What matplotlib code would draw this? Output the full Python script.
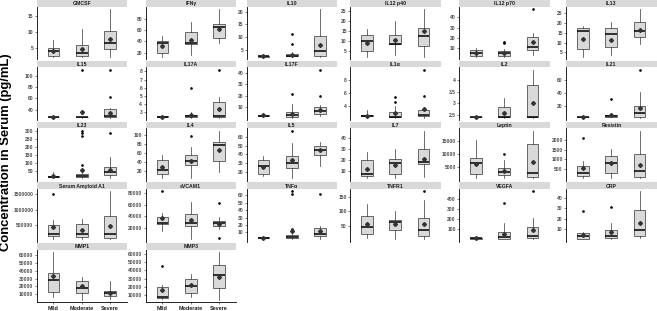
import matplotlib
matplotlib.use("Agg")
import matplotlib.pyplot as plt

plt.rcParams['font.family'] = ['Liberation Sans', 'DejaVu Sans']

groups = ["Mild", "Moderate", "Severe"]

panels = ["GMCSF", "IFNγ", "IL10", "IL12 p40", "IL12 p70", "IL13",
          "IL15", "IL17A", "IL17F", "IL1α", "IL2", "IL21",
          "IL23", "IL4", "IL5", "IL7", "Leptin", "Resistin",
          "Serum Amyloid A1", "sVCAM1", "TNFα", "TNFR1", "VEGFA", "CRP",
          "MMP1", "MMP3"]

whislo = {
    "GMCSF": [2.4, 2.4, 2.4], "IFNγ": [13, 17, 38], "IL10": [2.2, 2.2, 2.2],
    "IL12 p40": [2.2, 3.0, 2.2], "IL12 p70": [2, 2, 3.5], "IL13": [2.8, 3.6, 9.5],
    "IL15": [26.5, 26.5, 26.5], "IL17A": [2.3, 2.3, 2.3], "IL17F": [1.0, 0.5, 1.5],
    "IL1α": [2.3, 2.2, 2.2], "IL2": [2.38, 2.38, 2.38], "IL21": [1.5, 2, 1.5],
    "IL23": [3, 2, 5], "IL4": [5, 3, 18], "IL5": [15, 12, 27], "IL7": [3, 3, 4],
    "Leptin": [500, 500, 500], "Resistin": [80, 80, 50],
    "Serum Amyloid A1": [40000, 30000, 40000], "sVCAM1": [15000, 0, 17000],
    "TNFα": [1, 1, 1], "TNFR1": [5, 3, 2], "VEGFA": [3, 2, 5], "CRP": [0.3, 0.5, 1],
    "MMP1": [5800, 2500, 4000], "MMP3": [5000, 8000, 4000],
}
q1 = {
    "GMCSF": [2.6, 2.6, 4.7], "IFNγ": [19, 35, 46], "IL10": [2.3, 2.4, 2.4],
    "IL12 p40": [5.3, 8.5, 7.8], "IL12 p70": [2.6, 2.6, 8.3], "IL13": [6.7, 8, 12.8],
    "IL15": [26.8, 26.8, 27], "IL17A": [2.35, 2.4, 2.4], "IL17F": [1.5, 0.8, 3.7],
    "IL1α": [2.4, 2.25, 2.4], "IL2": [2.39, 2.4, 2.4], "IL21": [2, 3, 2.5],
    "IL23": [10, 10, 22], "IL4": [13, 32, 42], "IL5": [17, 24, 39], "IL7": [5, 7, 16],
    "Leptin": [2300, 1700, 1200], "Resistin": [170, 340, 100],
    "Serum Amyloid A1": [130000, 100000, 60000], "sVCAM1": [27000, 23000, 23000],
    "TNFα": [2, 2, 5], "TNFR1": [22, 33, 15], "VEGFA": [6, 5, 15], "CRP": [0.5, 1.5, 3],
    "MMP1": [12200, 11000, 8000], "MMP3": [6000, 12000, 18000],
}
median = {
    "GMCSF": [4.1, 3.7, 6.7], "IFNγ": [37, 38, 65], "IL10": [2.4, 2.6, 4.4],
    "IL12 p40": [10, 8.8, 12.5], "IL12 p70": [5.8, 5.5, 11], "IL13": [15.8, 14.2, 15.8],
    "IL15": [27, 27, 28.5], "IL17A": [2.4, 2.45, 2.45], "IL17F": [2.2, 2.8, 6.5],
    "IL1α": [2.45, 2.3, 2.6], "IL2": [2.4, 2.4, 2.4], "IL21": [2.3, 4, 9],
    "IL23": [14, 18, 45], "IL4": [21, 41, 78], "IL5": [27, 30, 45.5], "IL7": [7, 17, 18],
    "Leptin": [6300, 3000, 2600], "Resistin": [340, 830, 420],
    "Serum Amyloid A1": [210000, 210000, 200000], "sVCAM1": [28500, 29000, 28000],
    "TNFα": [3, 3.5, 8], "TNFR1": [44, 62, 33], "VEGFA": [10, 20, 30], "CRP": [3, 3, 9],
    "MMP1": [28000, 18500, 11000], "MMP3": [8200, 21500, 34500],
}
q3 = {
    "GMCSF": [5.3, 6.2, 10.3], "IFNγ": [41, 57, 70], "IL10": [2.6, 3.3, 10.3],
    "IL12 p40": [13.2, 13.2, 16.5], "IL12 p70": [8.3, 7.3, 21], "IL13": [17.3, 17.3, 20.3],
    "IL15": [27.2, 27.5, 42], "IL17A": [2.45, 2.6, 4.2], "IL17F": [2.8, 5.7, 9.5],
    "IL1α": [2.55, 3.0, 3.35], "IL2": [2.41, 2.85, 3.8], "IL21": [2.8, 5, 20],
    "IL23": [20, 30, 72], "IL4": [45, 55, 84], "IL5": [33.5, 38, 50.5], "IL7": [20, 20.5, 30],
    "Leptin": [8500, 4500, 13800], "Resistin": [680, 1150, 1300],
    "Serum Amyloid A1": [500000, 540000, 790000], "sVCAM1": [39000, 43000, 32000],
    "TNFα": [4, 6, 16], "TNFR1": [83, 71, 78], "VEGFA": [14, 75, 125], "CRP": [5.8, 9.5, 28],
    "MMP1": [37000, 27500, 14500], "MMP3": [20000, 30000, 46000],
}
whishi = {
    "GMCSF": [7.6, 11.2, 17.3], "IFNγ": [50, 75, 97], "IL10": [2.7, 4.2, 21],
    "IL12 p40": [16.2, 20, 26], "IL12 p70": [10.5, 9.5, 25], "IL13": [18.6, 20.3, 27],
    "IL15": [27.5, 28, 44], "IL17A": [2.5, 3.0, 4.9], "IL17F": [4.2, 12.3, 11.5],
    "IL1α": [3.35, 4.0, 3.8], "IL2": [2.42, 3.25, 4.45], "IL21": [3.5, 6.5, 42],
    "IL23": [40, 55, 135], "IL4": [56, 73, 110], "IL5": [38, 53, 55], "IL7": [27, 30, 47],
    "Leptin": [15500, 7500, 19000], "Resistin": [900, 1530, 2450],
    "Serum Amyloid A1": [650000, 700000, 1600000], "sVCAM1": [46000, 64000, 38000],
    "TNFα": [5, 10, 19], "TNFR1": [124, 101, 140], "VEGFA": [18, 165, 205], "CRP": [7, 15.5, 46],
    "MMP1": [64000, 32000, 27000], "MMP3": [22000, 35000, 62000],
}
means = {
    "GMCSF": [4.2, 4.8, 8.0], "IFNγ": [32, 43, 62], "IL10": [2.4, 3.0, 7.0],
    "IL12 p40": [8.9, 10.5, 14.8], "IL12 p70": [5.5, 5.8, 16], "IL13": [12, 11.5, 16.5],
    "IL15": [27, 36, 35], "IL17A": [2.4, 2.6, 3.4], "IL17F": [2.5, 3.5, 7],
    "IL1α": [2.5, 2.9, 3.5], "IL2": [2.4, 2.6, 3.0], "IL21": [2.4, 5, 16],
    "IL23": [15, 55, 55], "IL4": [28, 43, 66], "IL5": [25, 33, 45], "IL7": [12, 15, 21],
    "Leptin": [6000, 3200, 6700], "Resistin": [560, 800, 730],
    "Serum Amyloid A1": [420000, 330000, 450000], "sVCAM1": [36000, 33000, 27000],
    "TNFα": [3, 12, 12], "TNFR1": [54, 57, 55], "VEGFA": [10, 50, 95], "CRP": [4.5, 7, 16],
    "MMP1": [33000, 21000, 12000], "MMP3": [16000, 22000, 32000],
}
outliers = {
    "IL10": [[], [7.2, 11], []], "IL12 p70": [[], [15, 16.5], [48]],
    "IL15": [[], [35, 37, 110], [63, 110]], "IL17A": [[], [6.0], [8.2]],
    "IL17F": [[], [21.5], [20, 43]], "IL1α": [[], [4.6, 5.4], [5.5, 9.6]],
    "IL21": [[], [31], [76]], "IL23": [[], [90, 270, 290, 305], [290]],
    "IL4": [[], [98], []], "IL5": [[], [68], []], "Leptin": [[], [9800], []],
    "Resistin": [[2100], [], []], "Serum Amyloid A1": [[1500000], [], []],
    "sVCAM1": [[83000], [], [62000, 2000]], "TNFα": [[], [13, 14, 62, 65], [62]],
    "TNFR1": [[], [], [170]], "VEGFA": [[], [360], [470]], "CRP": [[27], [31], []],
    "MMP3": [[45000], [], []],
}
yticks = {
    "GMCSF": [5, 10, 15], "IFNγ": [20, 40, 60, 80], "IL10": [5, 10, 15, 20],
    "IL12 p40": [5, 10, 15, 20, 25], "IL12 p70": [10, 20, 30, 40], "IL13": [5, 10, 15, 20, 25],
    "IL15": [40, 60, 80, 100], "IL17A": [3, 4, 5, 6, 7, 8], "IL17F": [10, 20, 30, 40],
    "IL1α": [4, 6, 8], "IL2": [2.5, 3.0, 3.5, 4.0], "IL21": [20, 40, 60],
    "IL23": [50, 100, 150, 200, 250, 300], "IL4": [20, 40, 60, 80, 100],
    "IL5": [20, 30, 40, 50, 60], "IL7": [10, 20, 30, 40], "Leptin": [5000, 10000, 15000],
    "Resistin": [500, 1000, 1500, 2000], "Serum Amyloid A1": [500000, 1000000, 1500000],
    "sVCAM1": [20000, 40000, 60000, 80000], "TNFα": [10, 20, 30, 40, 50, 60],
    "TNFR1": [50, 100, 150], "VEGFA": [100, 200, 300, 400], "CRP": [10, 20, 30, 40],
    "MMP1": [10000, 20000, 30000, 40000, 50000, 60000],
    "MMP3": [10000, 20000, 30000, 40000, 50000, 60000],
}

W, H = 657, 311
fig = plt.figure(figsize=(W / 100, H / 100), dpi=100)

col_left = [36.5, 145.5, 246.5, 350.0, 459.0, 566.0]
panel_w = 90.5
row_top = [0.0, 60.8, 121.6, 182.4, 243.2]
strip_h = 6.6
panel_h = 52.6

tick_color = "#4d4d4d"
box_face = "#d9d9d9"
dark = "#333333"

def fmt(v):
    if float(v).is_integer():
        return f"{int(v)}"
    return f"{v:.1f}"

for i, name in enumerate(panels):
    r, c = divmod(i, 6)
    x0 = col_left[c]
    ytop = row_top[r] + strip_h
    ax = fig.add_axes([x0 / W, 1 - (ytop + panel_h) / H, panel_w / W, panel_h / H])
    sax = fig.add_axes([x0 / W, 1 - (row_top[r] + strip_h) / H, panel_w / W, strip_h / H])
    sax.set_facecolor("#d9d9d9")
    sax.set_xticks([]); sax.set_yticks([])
    for s in sax.spines.values():
        s.set_visible(False)
    sax.text(0.5, 0.45, name, ha="center", va="center", fontsize=3.7,
             fontweight="bold", color="#1a1a1a", transform=sax.transAxes)

    outs = outliers.get(name, [[], [], []])
    stats = []
    for g in range(3):
        stats.append(dict(med=median[name][g], q1=q1[name][g], q3=q3[name][g],
                          whislo=whislo[name][g], whishi=whishi[name][g],
                          mean=means[name][g], fliers=outs[g], label=groups[g]))
    ax.bxp(stats, positions=[1, 2, 3], widths=0.42, patch_artist=True,
           showmeans=True, showcaps=False,
           boxprops=dict(facecolor=box_face, edgecolor=dark, linewidth=0.5),
           whiskerprops=dict(color=dark, linewidth=0.5),
           medianprops=dict(color="black", linewidth=1.1),
           meanprops=dict(marker="D", markerfacecolor=dark, markeredgecolor=dark,
                          markersize=2.0),
           flierprops=dict(marker="o", markerfacecolor="black", markeredgecolor="black",
                           markersize=0.9, linestyle="none"))

    vals = whislo[name] + whishi[name] + means[name] + [v for o in outs for v in o]
    lo, hi = min(vals), max(vals)
    pad = 0.05 * (hi - lo)
    ax.set_ylim(lo - pad, hi + pad)
    ax.set_xlim(0.4, 3.6)
    ax.set_yticks(yticks[name])
    ax.set_yticklabels([fmt(v) for v in yticks[name]])
    ax.tick_params(axis="y", length=1.5, width=0.5, pad=0.8, labelsize=3.6,
                   labelcolor=tick_color, color=tick_color)
    for lab in ax.get_yticklabels():
        lab.set_fontweight("bold")
    ax.spines["top"].set_visible(False)
    ax.spines["right"].set_visible(False)
    ax.spines["left"].set_linewidth(0.6)
    ax.set_facecolor("none")
    if r == 4:
        ax.spines["bottom"].set_linewidth(0.6)
        ax.set_xticks([1, 2, 3])
        ax.set_xticklabels(groups)
        ax.tick_params(axis="x", length=1.5, width=0.5, pad=0.8, labelsize=3.9,
                       labelcolor="#1a1a1a", color=tick_color)
        for lab in ax.get_xticklabels():
            lab.set_fontweight("bold")
    else:
        ax.spines["bottom"].set_visible(False)
        ax.set_xticks([])

fig.text(6.3 / W, 1 - 152 / H, "Concentration in Serum (pg/mL)", rotation=90,
         ha="center", va="center", fontsize=9.4, fontweight="bold", color="black")

fig.savefig("out.png", dpi=100)
